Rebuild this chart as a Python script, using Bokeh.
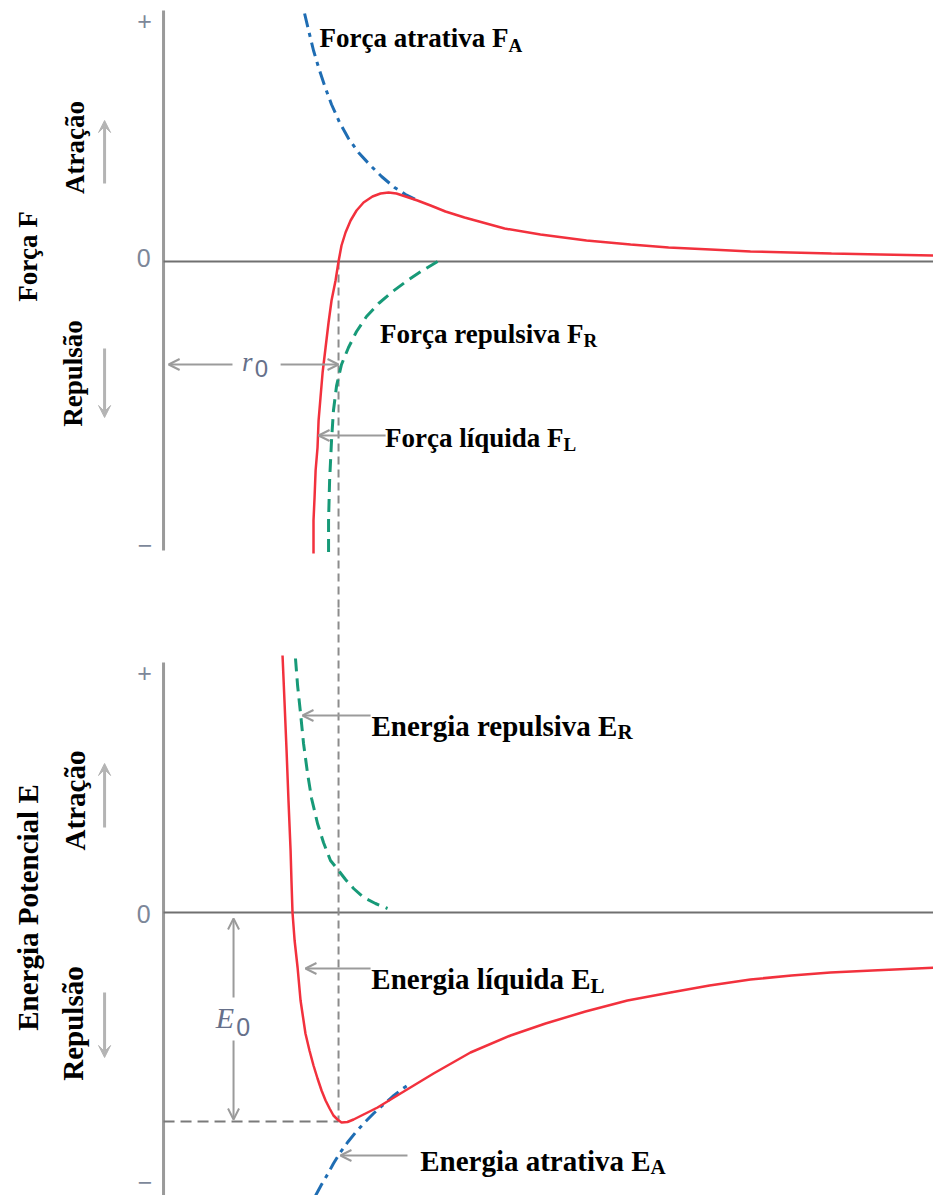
import numpy as np
from bokeh.plotting import figure
from bokeh.layouts import column
from bokeh.models import Arrow, OpenHead, VeeHead, Range1d
from bokeh.core.properties import value
from bokeh.embed import file_html
from bokeh.resources import INLINE

# ---------------- data (r in units of r0; F and E in arbitrary units) ----------------
# Force panel
r_FA = [0.806, 0.829, 0.857, 0.886, 0.920, 0.960, 1.006, 1.057, 1.114, 1.177, 1.246,
        1.320, 1.383, 1.451]
F_FA = [2.48, 2.31, 2.11, 1.94, 1.76, 1.57, 1.39, 1.23, 1.09, 0.97, 0.85,
        0.74, 0.67, 0.61]

r_FR = [1.566, 1.480, 1.394, 1.309, 1.229, 1.160, 1.103, 1.057, 1.017, 0.989, 0.971,
        0.960, 0.949, 0.943, 0.943]
F_FR = [0.00, -0.09, -0.19, -0.30, -0.42, -0.55, -0.70, -0.86, -1.03, -1.24, -1.49,
        -1.79, -2.19, -2.59, -2.92]

r_FL = [0.857, 0.857, 0.863, 0.869, 0.880, 0.886, 0.897, 0.909, 0.926, 0.943, 0.960,
        0.983, 1.000, 1.017, 1.040, 1.069, 1.103, 1.143, 1.194, 1.240, 1.286, 1.331,
        1.383, 1.451, 1.526, 1.611, 1.720, 1.949, 2.154, 2.417, 2.669, 2.886, 3.126,
        3.354, 3.583, 3.817, 4.097, 4.417]
F_FL = [-2.92, -2.59, -2.36, -2.09, -1.86, -1.59, -1.36, -1.11, -0.86, -0.61, -0.39,
        -0.19, 0.00, 0.16, 0.29, 0.41, 0.51, 0.59, 0.65, 0.68, 0.69, 0.68,
        0.65, 0.61, 0.56, 0.50, 0.44, 0.33, 0.27, 0.21, 0.17, 0.14, 0.12,
        0.10, 0.09, 0.08, 0.07, 0.06]

# Energy panel
r_EL = [0.680, 0.691, 0.703, 0.714, 0.726, 0.731, 0.737, 0.749, 0.766, 0.783, 0.811,
        0.834, 0.857, 0.880, 0.903, 0.926, 0.949, 0.971, 0.994, 1.017, 1.051, 1.086,
        1.143, 1.223, 1.354, 1.543, 1.754, 1.983, 2.183, 2.411, 2.651, 2.897, 3.120,
        3.354, 3.589, 3.811, 4.051, 4.446]
E_EL = [2.57, 2.12, 1.62, 1.12, 0.62, 0.32, 0.00, -0.28, -0.55, -0.88, -1.21,
        -1.38, -1.53, -1.66, -1.78, -1.88, -1.96, -2.03, -2.07, -2.10, -2.095, -2.07,
        -2.02, -1.95, -1.81, -1.61, -1.40, -1.23, -1.11, -0.99, -0.88, -0.80, -0.73,
        -0.67, -0.63, -0.60, -0.58, -0.55]

r_ER = [0.754, 0.766, 0.783, 0.800, 0.823, 0.846, 0.880, 0.914, 0.954, 1.000, 1.040,
        1.086, 1.143, 1.211, 1.280]
E_ER = [2.54, 2.27, 1.99, 1.69, 1.39, 1.14, 0.89, 0.70, 0.52, 0.42, 0.33,
        0.24, 0.15, 0.09, 0.04]

r_EA = [0.869, 0.903, 0.937, 0.971, 1.006, 1.051, 1.097, 1.149, 1.200, 1.251, 1.309,
        1.360, 1.411]
E_EA = [-2.83, -2.72, -2.62, -2.51, -2.41, -2.30, -2.20, -2.10, -2.01, -1.93, -1.84,
        -1.77, -1.71]

r0 = 1.0
E0 = -2.09

tick_labels = ["+", "0", "\u2212"]

# ---------------- styles ----------------
RED = "#f2313d"
BLUE = "#1f6db3"
GREEN = "#179a78"
AX = "#9a9a9a"
ZERO = "#707070"
ARR = "#9b9b9b"
TICK = "#7d8799"
NOTE = "#66708a"
SERIF = value("Liberation Serif")
SANS = value("Liberation Sans")

W = 933
PAD = 8  # page margin compensation


def base(height, y0, y1, top=0):
    p = figure(width=W, height=height, x_range=Range1d(-0.886, 4.4),
               y_range=Range1d(y0, y1), output_backend="svg",
               toolbar_location=None, x_axis_location=None, y_axis_location=None,
               min_border=0, min_border_left=PAD, min_border_top=top)
    p.grid.visible = False
    p.outline_line_color = None
    p.background_fill_color = "white"
    p.border_fill_color = "white"
    return p


def arrow(p, x0, y0, x1, y1, color=ARR, width=2, size=11, vee=False):
    if vee:
        head = VeeHead(size=size, fill_color=color, line_color=color, line_width=1)
    else:
        head = OpenHead(size=size, line_color=color, line_width=width)
    p.add_layout(Arrow(end=head, x_start=x0, y_start=y0, x_end=x1, y_end=y1,
                       line_color=color, line_width=width))


def label_sub(p, x, y, main, sub, size, subsize, y_sub):
    p.text(x=[x], y=[y], text=[main], text_font=SERIF, text_font_style="bold",
           text_font_size=size, text_align="right", text_baseline="alphabetic",
           text_color="black")
    p.text(x=[x], y=[y_sub], text=[sub], text_font=SERIF, text_font_style="bold",
           text_font_size=subsize, text_align="left", text_baseline="alphabetic",
           text_color="black")


def side_labels(p, title, title_y, title_size, up_y, down_y, up_arrow, down_arrow, ticks_y):
    p.text(x=[-0.777], y=[title_y], text=[title], angle=np.pi / 2, text_font=SERIF,
           text_font_style="bold", text_font_size=title_size, text_align="center",
           text_baseline="middle", text_color="black")
    p.text(x=[-0.505, -0.52], y=[up_y, down_y], text=["Atração", "Repulsão"],
           angle=np.pi / 2, text_font=SERIF, text_font_style="bold",
           text_font_size=title_size, text_align="center", text_baseline="middle",
           text_color="black")
    arrow(p, -0.337, up_arrow[0], -0.337, up_arrow[1], color="#b4b4b4", width=3,
          size=12, vee=True)
    arrow(p, -0.337, down_arrow[0], -0.337, down_arrow[1], color="#b4b4b4", width=3,
          size=12, vee=True)
    p.text(x=[-0.109, -0.114, -0.105], y=ticks_y, text=tick_labels, text_font=SANS,
           text_font_size="25px", text_align="center", text_baseline="middle",
           text_color=TICK)


# ---------------- force panel ----------------
p1 = base(608, -3.47, 2.53, top=PAD)
p1.line([0, 0], [2.51, -2.89], line_color=AX, line_width=3)
p1.line([0, 4.4], [0, 0], line_color=ZERO, line_width=2)
p1.line([r0, r0], [0, -3.47], line_color="#8c8c8c", line_width=2, line_dash="8 5")

p1.line(r_FA, F_FA, line_color=BLUE, line_width=3, line_dash="14 6 4 6")
p1.line(r_FR, F_FR, line_color=GREEN, line_width=3, line_dash="13 7")
p1.line(r_FL, F_FL, line_color=RED, line_width=2.5)

side_labels(p1, "Força F", 0.05, "27px", 1.14, -1.12, (0.78, 1.41), (-0.87, -1.56),
            [2.41, 0.04, -2.83])

# r0 arrow
arrow(p1, 0.394, -1.03, 0.029, -1.03)
arrow(p1, 0.669, -1.03, r0, -1.03)
p1.text(x=[0.478], y=[-1.00], text=["r"], text_font=SERIF, text_font_style="italic",
        text_font_size="27px", text_align="center", text_baseline="middle",
        text_color=NOTE)
p1.text(x=[0.56], y=[-1.07], text=["0"], text_font=SANS, text_font_size="24px",
        text_align="center", text_baseline="middle", text_color=NOTE)

arrow(p1, 1.269, -1.74, 0.886, -1.74)

label_sub(p1, 1.971, 2.24, "Força atrativa F", "A", "27px", "19px", 2.16)
label_sub(p1, 2.400, -0.72, "Força repulsiva F", "R", "27px", "19px", -0.79)
label_sub(p1, 2.286, -1.76, "Força líquida F", "L", "27px", "19px", -1.83)

# ---------------- energy panel ----------------
p2 = base(587, -2.83, 3.04)
p2.line([0, 0], [2.50, -2.83], line_color=AX, line_width=3)
p2.line([0, 4.4], [0, 0], line_color=ZERO, line_width=2)
p2.line([r0, r0], [3.04, E0], line_color="#8c8c8c", line_width=2, line_dash="8 5")
p2.line([0, r0], [E0, E0], line_color="#7a7a7a", line_width=2, line_dash="11 6")

p2.line(r_ER, E_ER, line_color=GREEN, line_width=3, line_dash="13 7")
p2.line(r_EA, E_EA, line_color=BLUE, line_width=3, line_dash="14 6 4 6")
p2.line(r_EL, E_EL, line_color=RED, line_width=2.5)

side_labels(p2, "Energia Potencial E", 0.05, "29px", 1.12, -1.11, (0.85, 1.49),
            (-0.80, -1.45), [2.40, -0.01, -2.69])

# E0 arrow
arrow(p2, 0.40, -0.85, 0.40, -0.06)
arrow(p2, 0.40, -1.28, 0.40, -2.07)
p2.text(x=[0.35], y=[-1.05], text=["E"], text_font=SERIF, text_font_style="italic",
        text_font_size="30px", text_align="center", text_baseline="middle",
        text_color=NOTE)
p2.text(x=[0.455], y=[-1.14], text=["0"], text_font=SANS, text_font_size="25px",
        text_align="center", text_baseline="middle", text_color=NOTE)

arrow(p2, 1.183, 1.97, 0.794, 1.97)
arrow(p2, 1.183, -0.56, 0.811, -0.56)
arrow(p2, 1.394, -2.43, 1.011, -2.43)

label_sub(p2, 2.594, 1.87, "Energia repulsiva E", "R", "29px", "21px", 1.81)
label_sub(p2, 2.440, -0.66, "Energia líquida E", "L", "29px", "21px", -0.73)
label_sub(p2, 2.783, -2.48, "Energia atrativa E", "A", "29px", "21px", -2.54)

layout = column(p1, p2, spacing=0)
open("out.html", "w").write(file_html(layout, INLINE))
